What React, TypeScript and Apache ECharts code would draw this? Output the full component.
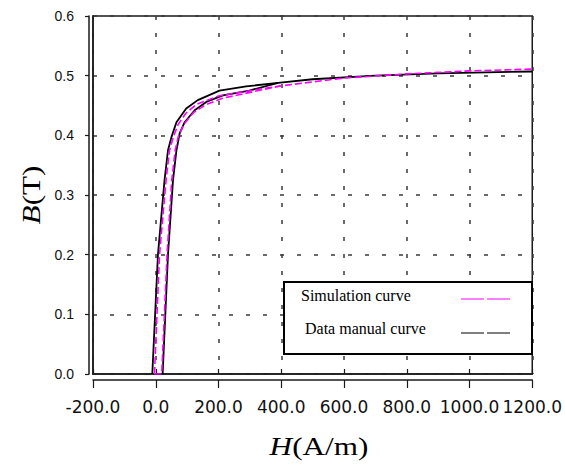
import React, { useEffect, useRef } from "react";
import * as echarts from "echarts";

// H (A/m), B (T)
const manualUpper: number[][] = [
  [-11, 0], [7, 0.2], [28, 0.325], [39, 0.375], [50, 0.397], [66, 0.422], [97, 0.445],
  [134, 0.459], [203, 0.475], [288, 0.482], [390, 0.488], [500, 0.494], [700, 0.5],
  [900, 0.504], [1200, 0.507],
];
const manualLower: number[][] = [
  [22, 0], [39, 0.2], [55, 0.325], [66, 0.375], [76, 0.403], [92, 0.422], [124, 0.442],
  [161, 0.456], [214, 0.467], [298, 0.475], [390, 0.488],
];
const simUpper: number[][] = [
  [-4, 0], [12, 0.2], [33, 0.325], [44, 0.375], [56, 0.397], [71, 0.418], [96, 0.437],
  [130, 0.452], [200, 0.466], [290, 0.474], [400, 0.483], [600, 0.496], [800, 0.503],
  [1000, 0.508], [1200, 0.511],
];
const simLower: number[][] = [
  [-4, 0], [19, 0], [36, 0.2], [51, 0.325], [62, 0.375], [72, 0.398], [89, 0.418],
  [120, 0.438], [158, 0.451], [212, 0.462], [300, 0.472], [400, 0.483],
];
const xTicks = { min: -200, max: 1200, step: 200 };
const yTicks = { min: 0, max: 0.6, step: 0.1 };

export default function App() {
  const ref = useRef<HTMLDivElement>(null);
  useEffect(() => {
    if (!ref.current) return;
    const chart = echarts.init(ref.current, null, { renderer: "svg" });
    const axisColor = "#1a1a1a";
    const gridLine = { show: true, lineStyle: { color: "#3a3a3a", width: 1.5, type: [4, 13] as any } };
    const serif = "Liberation Serif";
    chart.setOption({
      animation: false,
      backgroundColor: "#fff",
      grid: {
        left: 93, top: 16, width: 441, height: 358,
        show: true, borderColor: axisColor, borderWidth: 1.5, backgroundColor: "transparent",
      },
      xAxis: [
        {
          type: "value", min: xTicks.min, max: xTicks.max, interval: xTicks.step,
          axisLine: { show: true, onZero: false, lineStyle: { color: axisColor, width: 1.5 } },
          axisTick: { show: true, inside: true, length: 5, lineStyle: { color: axisColor, width: 1.2 } },
          axisLabel: { show: false },
          splitLine: gridLine,
        },
        {
          type: "value", min: xTicks.min, max: xTicks.max, interval: xTicks.step,
          position: "bottom", offset: 6,
          axisLine: { show: true, onZero: false, lineStyle: { color: axisColor, width: 1.5 } },
          axisTick: { show: true, inside: false, length: 8, lineStyle: { color: axisColor, width: 1.2 } },
          axisLabel: {
            show: true, margin: 18, color: "#111", fontSize: 17, fontFamily: "DejaVu Sans",
            formatter: (v: number) => v.toFixed(1),
          },
          splitLine: { show: false },
        },
      ],
      yAxis: [
        {
          type: "value", min: yTicks.min, max: yTicks.max, interval: yTicks.step,
          axisLine: { show: true, onZero: false, lineStyle: { color: axisColor, width: 1.5 } },
          axisTick: { show: false },
          axisLabel: { show: false },
          splitLine: gridLine,
        },
        {
          type: "value", min: yTicks.min, max: yTicks.max, interval: yTicks.step,
          position: "left", offset: 4,
          axisLine: { show: true, onZero: false, lineStyle: { color: axisColor, width: 1.5 } },
          axisTick: { show: true, inside: false, length: 4, lineStyle: { color: axisColor, width: 1.2 } },
          axisLabel: {
            show: true, margin: 15, color: "#111", fontSize: 14, fontFamily: "Liberation Sans",
            formatter: (v: number) => v.toFixed(1),
          },
          splitLine: { show: false },
        },
      ],
      series: [
        { type: "line", data: manualUpper, showSymbol: false, symbol: "none", lineStyle: { color: "#000", width: 1.8 }, z: 3 },
        { type: "line", data: manualLower, showSymbol: false, symbol: "none", lineStyle: { color: "#000", width: 1.8 }, z: 3 },
        { type: "line", data: simUpper, showSymbol: false, symbol: "none", lineStyle: { color: "#ff00ff", width: 1.6, type: [7, 3] }, z: 4 },
        { type: "line", data: simLower, showSymbol: false, symbol: "none", lineStyle: { color: "#ff00ff", width: 1.6, type: [7, 3] }, z: 4 },
      ],
      graphic: [
        {
          type: "rect", z: 100, shape: { x: 284, y: 282, width: 248, height: 72 },
          style: { fill: "#fff", stroke: "#000", lineWidth: 2 },
        },
        {
          type: "text", z: 101, x: 301, y: 295,
          style: { text: "Simulation curve", fill: "#000", fontSize: 16, fontFamily: serif, textAlign: "left", textVerticalAlign: "middle" },
        },
        {
          type: "text", z: 101, x: 305, y: 328,
          style: { text: "Data manual curve", fill: "#000", fontSize: 16, fontFamily: serif, textAlign: "left", textVerticalAlign: "middle" },
        },
        { type: "line", z: 101, shape: { x1: 461, y1: 299, x2: 484, y2: 299 }, style: { stroke: "#ff00ff", lineWidth: 1 } },
        { type: "line", z: 101, shape: { x1: 487, y1: 299, x2: 510, y2: 299 }, style: { stroke: "#ff00ff", lineWidth: 1 } },
        { type: "line", z: 101, shape: { x1: 461, y1: 333, x2: 484, y2: 333 }, style: { stroke: "#000", lineWidth: 1 } },
        { type: "line", z: 101, shape: { x1: 487, y1: 333, x2: 510, y2: 333 }, style: { stroke: "#000", lineWidth: 1 } },
        {
          type: "text", z: 101, x: 319, y: 446, scaleX: 1.2,
          style: {
            text: "{i|H}{n|(A/m)}", fill: "#000", fontSize: 26, fontFamily: serif, fontWeight: "normal",
            textAlign: "center", textVerticalAlign: "middle",
            rich: {
              i: { fontStyle: "italic", fontWeight: "normal", fontSize: 26, fontFamily: serif },
              n: { fontStyle: "normal", fontWeight: "normal", fontSize: 26, fontFamily: serif },
            },
          },
        },
        {
          type: "text", z: 101, x: 31, y: 195, scaleX: 1.2, rotation: Math.PI / 2,
          style: {
            text: "{i|B}{n|(T)}", fill: "#000", fontSize: 26, fontFamily: serif, fontWeight: "normal",
            textAlign: "center", textVerticalAlign: "middle",
            rich: {
              i: { fontStyle: "italic", fontWeight: "normal", fontSize: 26, fontFamily: serif },
              n: { fontStyle: "normal", fontWeight: "normal", fontSize: 26, fontFamily: serif },
            },
          },
        },
      ],
    });
    return () => chart.dispose();
  }, []);
  return <div ref={ref} style={{ position: "absolute", left: 0, top: 0, width: 565, height: 465 }} />;
}
